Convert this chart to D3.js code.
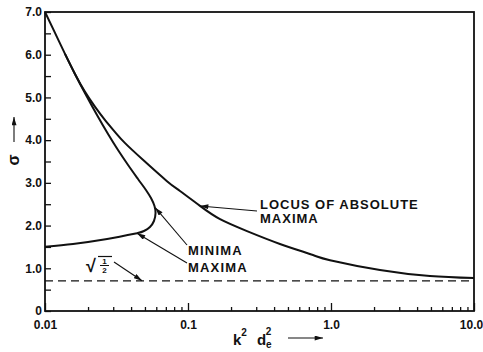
<!DOCTYPE html>
<html>
<head>
<meta charset="utf-8">
<script src="https://cdn.jsdelivr.net/npm/d3@7"></script>
<style>
  body { margin: 0; background: #fff; }
  text { font-family: "Liberation Sans", Arial, sans-serif; font-weight: bold; fill: #111; }
</style>
</head>
<body>
<div id="chart"></div>
<script>
var svgWidth = 483;
var svgHeight = 352;

// locus of absolute maxima (upper curve)
var absMaxK = [0.01, 0.01175, 0.0138, 0.0162, 0.01905, 0.0224, 0.0263, 0.0309, 0.0363, 0.0484, 0.0713, 0.0879, 0.1213, 0.1675, 0.2586, 0.4395, 0.748, 0.984, 2.2, 4.92, 10];
var absMaxS = [7.0, 6.51, 6.02, 5.55, 5.13, 4.78, 4.47, 4.19, 3.93, 3.54, 3.04, 2.81, 2.46, 2.15, 1.87, 1.57, 1.31, 1.19, 0.96, 0.82, 0.77];

// maxima branch (lower, from left edge to the cusp)
var maxK = [0.01, 0.0157, 0.0272, 0.044];
var maxS = [1.505, 1.57, 1.686, 1.82];

// minima branch (from the cusp round the turn and up into the upper curve)
var minK = [0.044, 0.0492, 0.0542, 0.0578, 0.0593, 0.0583, 0.0551, 0.0508, 0.0447, 0.0381, 0.0324, 0.0276, 0.0231, 0.01935, 0.0162, 0.0138];
var minS = [1.82, 1.873, 1.967, 2.107, 2.294, 2.458, 2.646, 2.833, 3.09, 3.418, 3.769, 4.144, 4.589, 5.057, 5.55, 6.02];

var sqrtHalf = Math.SQRT1_2;

var xMajor = [0.01, 0.1, 1, 10];
var xMajorLabels = ["0.01", "0.1", "1.0", "10.0"];
var xMinor = [0.02,0.03,0.04,0.05,0.06,0.07,0.08,0.09, 0.2,0.3,0.4,0.5,0.6,0.7,0.8,0.9, 2,3,4,5,6,7,8,9];
var yTicks = [0, 0.5, 1, 1.5, 2, 2.5, 3, 3.5, 4, 4.5, 5, 5.5, 6, 6.5, 7];
var yLabels = ["0", "1.0", "2.0", "3.0", "4.0", "5.0", "6.0", "7.0"];

var svg = d3.select("#chart")
  .append("svg")
  .attr("width", svgWidth)
  .attr("height", svgHeight);

var x = d3.scaleLog().domain([0.01, 10]).range([45, 474]);
var y = d3.scaleLinear().domain([0, 7]).range([311, 12]);

// arrow marker
svg.append("defs").append("marker")
  .attr("id", "arr")
  .attr("viewBox", "0 -3 10 6")
  .attr("refX", 10).attr("refY", 0)
  .attr("markerWidth", 9).attr("markerHeight", 5)
  .attr("markerUnits", "userSpaceOnUse")
  .attr("orient", "auto")
  .append("path")
  .attr("d", "M0,-3L10,0L0,3Z")
  .attr("fill", "#111");

// axes
var xAxisMajor = d3.axisBottom(x).tickValues(xMajor).tickSize(-8).tickPadding(9)
  .tickFormat(function(d, i) { return xMajorLabels[i]; });
var xAxisMinor = d3.axisBottom(x).tickValues(xMinor).tickSize(-4).tickFormat("");
var yAxis = d3.axisLeft(y).tickValues(yTicks).tickSize(-6).tickPadding(3)
  .tickFormat(function(d) { return d % 1 === 0 ? yLabels[d] : ""; });

var gx = svg.append("g").attr("transform", "translate(0,311)").call(xAxisMajor);
var gxm = svg.append("g").attr("transform", "translate(0,311)").call(xAxisMinor);
var gy = svg.append("g").attr("transform", "translate(45,0)").call(yAxis);
[gx, gxm, gy].forEach(function(g) {
  g.select(".domain").remove();
  g.selectAll("line").attr("stroke", "#111").attr("stroke-width", 1.3);
  g.selectAll("text").attr("font-size", 12).attr("font-family", null).style("fill", "#111");
});
gx.selectAll("text").filter(function(d) { return d === 10; }).attr("dx", -3);

// frame
svg.append("rect")
  .attr("x", x(0.01)).attr("y", y(7))
  .attr("width", x(10) - x(0.01)).attr("height", y(0) - y(7))
  .attr("fill", "none").attr("stroke", "#111").attr("stroke-width", 1.8);

// dashed sqrt(1/2) line
svg.append("line")
  .attr("x1", x(0.01)).attr("x2", x(10))
  .attr("y1", y(sqrtHalf)).attr("y2", y(sqrtHalf))
  .attr("stroke", "#111").attr("stroke-width", 1.3)
  .attr("stroke-dasharray", "8,5");

// curves
function drawCurve(ks, ss, curve) {
  var line = d3.line()
    .x(function(d) { return x(d[0]); })
    .y(function(d) { return y(d[1]); })
    .curve(curve);
  svg.append("path")
    .datum(d3.zip(ks, ss))
    .attr("d", line)
    .attr("fill", "none")
    .attr("stroke", "#111")
    .attr("stroke-width", 2);
}
drawCurve(absMaxK, absMaxS, d3.curveNatural);
drawCurve(maxK, maxS, d3.curveMonotoneX);
drawCurve(minK, minS, d3.curveCatmullRom.alpha(0.5));

// annotations
function arrow(x1, y1, x2, y2) {
  svg.append("line")
    .attr("x1", x1).attr("y1", y1).attr("x2", x2).attr("y2", y2)
    .attr("stroke", "#111").attr("stroke-width", 1.1)
    .attr("marker-end", "url(#arr)");
}

svg.append("text").attr("x", 260).attr("y", 209).attr("font-size", 13)
  .attr("letter-spacing", 1).text("LOCUS OF ABSOLUTE");
svg.append("text").attr("x", 260).attr("y", 223).attr("font-size", 13)
  .attr("letter-spacing", 1).text("MAXIMA");
arrow(257, 211, x(0.1213), y(2.46));

svg.append("text").attr("x", 188).attr("y", 255).attr("font-size", 13)
  .attr("letter-spacing", 1.2).text("MINIMA");
arrow(187, 245, x(0.059), y(2.42));

svg.append("text").attr("x", 188).attr("y", 272).attr("font-size", 13)
  .attr("letter-spacing", 1.2).text("MAXIMA");
arrow(187, 263, x(0.044), y(1.82));

// sqrt(1/2) label
svg.append("text").attr("x", 86).attr("y", 272).attr("font-size", 18)
  .attr("font-weight", "normal").text("\u221A");
svg.append("line").attr("x1", 98).attr("x2", 112).attr("y1", 256.5).attr("y2", 256.5)
  .attr("stroke", "#111").attr("stroke-width", 1.2);
svg.append("text").attr("x", 104.5).attr("y", 264).attr("font-size", 8)
  .attr("text-anchor", "middle").text("1");
svg.append("line").attr("x1", 100).attr("x2", 109).attr("y1", 265.5).attr("y2", 265.5)
  .attr("stroke", "#111").attr("stroke-width", 1);
svg.append("text").attr("x", 104.5).attr("y", 273).attr("font-size", 8)
  .attr("text-anchor", "middle").text("2");
arrow(114, 262, x(0.0477), y(sqrtHalf));

// y axis label: sigma with arrow
svg.append("text")
  .attr("transform", "translate(19,160) rotate(-90)")
  .attr("text-anchor", "middle")
  .attr("font-size", 16)
  .text("\u03C3");
arrow(14, 142, 14, 117);

// x axis label: k^2 d_e^2 ->
var xl = svg.append("text").attr("x", 233).attr("y", 345).attr("font-size", 15);
xl.append("tspan").text("k");
xl.append("tspan").attr("font-size", 10).attr("dy", -9).text("2");
xl.append("tspan").attr("dx", 10).attr("dy", 9).text("d");
xl.append("tspan").attr("font-size", 10).attr("dy", 3).text("e");
xl.append("tspan").attr("font-size", 10).attr("dx", -6).attr("dy", -13).text("2");
arrow(288, 338, 323, 338);
</script>
</body>
</html>
